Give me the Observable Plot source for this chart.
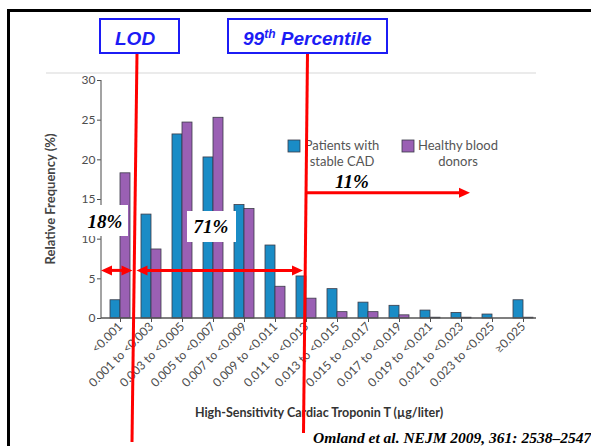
<!DOCTYPE html>
<html>
<head>
<meta charset="utf-8">
<script src="https://cdn.jsdelivr.net/npm/d3@7"></script>
<script src="https://cdn.jsdelivr.net/npm/@observablehq/plot@0.6"></script>
<style>
  html, body { margin: 0; padding: 0; background: #fff; }
  #chart { position: relative; width: 591px; height: 446px; overflow: hidden; }
</style>
</head>
<body>
<div id="chart"></div>
<script>
// ---- data ----
const categories = ["<0.001", "0.001 to <0.003", "0.003 to <0.005", "0.005 to <0.007", "0.007 to <0.009",
  "0.009 to <0.011", "0.011 to <0.013", "0.013 to <0.015", "0.015 to <0.017", "0.017 to <0.019",
  "0.019 to <0.021", "0.021 to <0.023", "0.023 to <0.025", "≥0.025"];
const seriesNames = ["Patients with stable CAD", "Healthy blood donors"];
const cadValues = [2.3, 13.1, 23.2, 20.3, 14.3, 9.2, 5.3, 3.7, 2.0, 1.6, 1.0, 0.7, 0.5, 2.3];
const healthyValues = [18.3, 8.7, 24.7, 25.3, 13.8, 4.0, 2.5, 0.8, 0.8, 0.4, 0.1, 0.1, 0.0, 0.1];
const yTicks = [0, 5, 10, 15, 20, 25, 30];
const yLabel = "Relative Frequency (%)";
const xLabel = "High-Sensitivity Cardiac Troponin T (µg/liter)";
const lodLabel = "LOD";
const pctLabels = ["18%", "71%", "11%"];
const citation = "Omland et al. NEJM 2009, 361: 2538–2547";

// ---- styles ----
const colors = ["#1a8cc6", "#9a60b4"];
const barStroke = "#3b3b48";
const red = "#ff0000";
const blueText = "#1c1cf5";

const cadData = categories.map((c, i) => ({category: c, series: seriesNames[0], value: cadValues[i]}));
const healthyData = categories.map((c, i) => ({category: c, series: seriesNames[1], value: healthyValues[i]}));

const chart = Plot.plot({
  width: 591,
  height: 446,
  marginLeft: 101,
  marginRight: 50,
  marginTop: 80,
  marginBottom: 128,
  style: {fontFamily: "Lato, 'Open Sans', sans-serif", fontSize: "12px", color: "#4d4d4d", background: "#fff"},
  x: {domain: categories, paddingInner: 0.36, paddingOuter: 0.22, tickRotate: -45, tickSize: 4, tickPadding: 2, label: null},
  y: {domain: [0, 30], ticks: yTicks, tickSize: 4, tickPadding: 2, label: null},
  marks: [
    Plot.barY(cadData, {x: "category", y: "value", fill: colors[0], stroke: barStroke, strokeWidth: 0.8, insetRight: 10}),
    Plot.barY(healthyData, {x: "category", y: "value", fill: colors[1], stroke: barStroke, strokeWidth: 0.8, insetLeft: 10})
  ]
});
document.getElementById("chart").appendChild(chart);

// ---- decorations ----
const svg = d3.select(chart);
const xs = chart.scale("x"), ys = chart.scale("y");
const bw = xs.bandwidth;
const x0 = xs.range[0], x1 = xs.range[1];
const yTop = ys.apply(30), yBase = ys.apply(0);

const g = svg.append("g");
// light top line
g.append("line").attr("x1", 46).attr("x2", 536).attr("y1", 73).attr("y2", 73)
  .attr("stroke", "#ebebeb").attr("stroke-width", 2);
// axis lines
g.append("line").attr("x1", x0).attr("x2", x0).attr("y1", yTop).attr("y2", yBase)
  .attr("stroke", "#666").attr("stroke-width", 1.2);
g.append("line").attr("x1", x0).attr("x2", x1 - 5).attr("y1", yBase).attr("y2", yBase)
  .attr("stroke", "#555").attr("stroke-width", 1.5);
// axis titles
g.append("text").attr("transform", `translate(55,${(yTop + yBase) / 2}) rotate(-90)`)
  .attr("text-anchor", "middle").attr("font-weight", "bold").attr("font-size", 13)
  .attr("fill", "#444").text(yLabel);
g.append("text").attr("x", (x0 + x1) / 2 - 2).attr("y", 417).attr("text-anchor", "middle")
  .attr("font-weight", "bold").attr("font-size", 12.5).attr("fill", "#333").text(xLabel);

// legend
const legend = [
  {sq: 288, cx: 342, lines: ["Patients with", "stable CAD"]},
  {sq: 402, cx: 458, lines: ["Healthy blood", "donors"]}
];
legend.forEach((l, i) => {
  g.append("rect").attr("x", l.sq).attr("y", 140).attr("width", 12).attr("height", 12)
    .attr("fill", colors[i]).attr("stroke", barStroke).attr("stroke-width", 0.8);
  l.lines.forEach((t, j) => g.append("text").attr("x", l.cx).attr("y", 150 + j * 16)
    .attr("text-anchor", "middle").attr("font-size", 13).attr("fill", "#555").text(t));
});

// annotations
const a = svg.append("g");
const lodX = (xs.apply(categories[0]) + bw + xs.apply(categories[1])) / 2;
const p99X = xs.apply(categories[6]) + bw / 2;
const arrowY = ys.apply(6);
const arrow2Y = ys.apply(15.8);

function line(xA, yA, xB, yB, w) {
  a.append("line").attr("x1", xA).attr("y1", yA).attr("x2", xB).attr("y2", yB)
    .attr("stroke", red).attr("stroke-width", w || 3);
}
function head(xTip, y, dir) {
  const L = 11, H = 5;
  a.append("path").attr("d", `M${xTip},${y}L${xTip - dir * L},${y - H}L${xTip - dir * L},${y + H}Z`).attr("fill", red);
}
function dblArrow(xA, xB, y) {
  line(xA + 8, y, xB - 8, y, 3);
  head(xA, y, -1); head(xB, y, 1);
}

// white label boxes
function pct(t, x, y, bx, by, bwid, bh, box) {
  if (box) a.append("rect").attr("x", bx).attr("y", by).attr("width", bwid).attr("height", bh).attr("fill", "#fff");
  a.append("text").attr("x", x).attr("y", y).attr("text-anchor", "middle")
    .attr("font-family", "'Liberation Serif', 'Times New Roman', serif").attr("font-weight", "bold")
    .attr("font-style", "italic").attr("font-size", 19).attr("fill", "#000").text(t);
}
pct(pctLabels[0], 105, 228, 82, 205, 46, 31, true);
pct(pctLabels[1], 211, 233, 187, 211, 49, 31, true);

// vertical lines
line(lodX + 1.5, 53, lodX - 3.5, 442, 3);
line(p99X + 1.5, 53, p99X - 2.5, 433, 3);

// arrows
dblArrow(x0, lodX - 3, arrowY);
dblArrow(lodX + 1, p99X - 3, arrowY);
line(p99X, arrow2Y, 460, arrow2Y, 3);
head(470, arrow2Y, 1);
pct(pctLabels[2], 352, 188, 0, 0, 0, 0, false);

// top boxes
function topBox(bx, wid) {
  a.append("rect").attr("x", bx).attr("y", 19).attr("width", wid).attr("height", 34)
    .attr("fill", "#fff").attr("stroke", blueText).attr("stroke-width", 2);
}
topBox(100, 79);
topBox(228, 159);
const boxFont = "'Liberation Sans', Arial, sans-serif";
a.append("text").attr("x", 115).attr("y", 45).attr("text-anchor", "start").attr("font-family", boxFont).attr("font-weight", "bold")
  .attr("font-style", "italic").attr("font-size", 19).attr("fill", blueText).text(lodLabel);
const t99 = a.append("text").attr("x", 243).attr("y", 45).attr("text-anchor", "start").attr("font-family", boxFont).attr("font-weight", "bold")
  .attr("font-style", "italic").attr("font-size", 19).attr("fill", blueText);
t99.append("tspan").text("99");
t99.append("tspan").attr("font-size", 12).attr("dy", -7).text("th");
t99.append("tspan").attr("dy", 7).text(" Percentile");

// citation
a.append("text").attr("x", 313).attr("y", 443).attr("text-anchor", "start").attr("font-family", "'Liberation Serif', 'Times New Roman', serif")
  .attr("font-weight", "bold").attr("font-style", "italic").attr("font-size", 15.5).attr("fill", "#000").text(citation);

// slide border
a.append("path").attr("d", "M8.5,446V10.5H591").attr("fill", "none").attr("stroke", "#000").attr("stroke-width", 3);
</script>
</body>
</html>
